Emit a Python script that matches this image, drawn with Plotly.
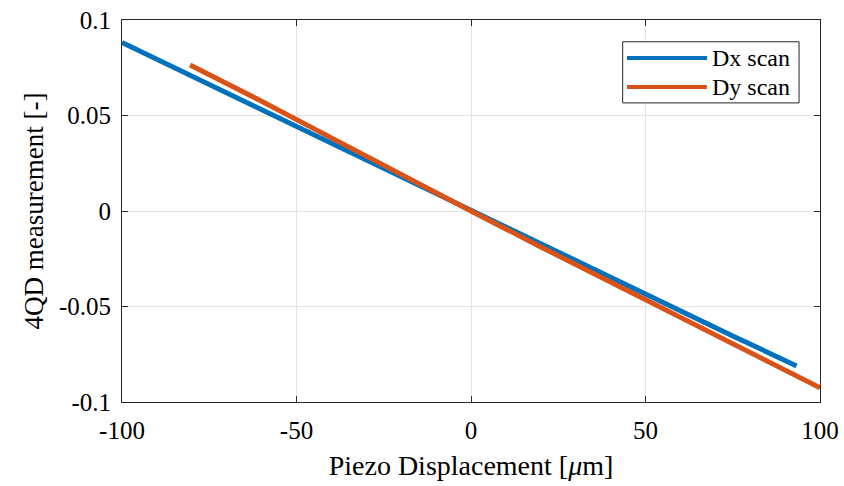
import plotly.graph_objects as go

# Dx scan: piezo displacement [um] vs 4QD measurement [-]
dx_disp = [-100, -75, -50, -25, 0, 25, 50, 75, 93.3]
dx_meas = [0.0882, 0.0662, 0.0442, 0.0221, 0.0, -0.0218, -0.0436, -0.0654, -0.0811]

# Dy scan
dy_disp = [-80.5, -60, -40, -20, 0, 20, 40, 60, 80, 100]
dy_meas = [0.0764, 0.0575, 0.0383, 0.0190, 0.0, -0.0188, -0.0374, -0.0560, -0.0743, -0.0925]

x_ticks = [-100, -50, 0, 50, 100]
y_ticks = [-0.1, -0.05, 0, 0.05, 0.1]
y_tick_text = ["-0.1", "-0.05", "0", "0.05", "0.1"]

series_names = ["Dx scan", "Dy scan"]
colors = ["#0072BD", "#D95319"]

FONT = "Liberation Serif"

fig = go.Figure()
fig.add_trace(go.Scatter(x=dx_disp, y=dx_meas, mode="lines", name=series_names[0],
                         line=dict(color=colors[0], width=5), showlegend=False))
fig.add_trace(go.Scatter(x=dy_disp, y=dy_meas, mode="lines", name=series_names[1],
                         line=dict(color=colors[1], width=5), showlegend=False))

axis_common = dict(showline=True, linecolor="#262626", linewidth=1, mirror="ticks",
                   ticks="inside", ticklen=6, tickcolor="#262626", showgrid=True,
                   gridcolor="#E3E3E3", gridwidth=1, zeroline=False, automargin=False,
                   tickfont=dict(family=FONT, size=25, color="black"))

fig.update_xaxes(range=[-100, 100], tickvals=x_ticks, ticktext=[str(v) for v in x_ticks],
                 ticklabelstandoff=6,
                 title=dict(text="Piezo Displacement [<i>μ</i>m]", font=dict(family=FONT, size=28, color="black"), standoff=12),
                 **axis_common)
fig.update_yaxes(range=[-0.1, 0.1], tickvals=y_ticks, ticktext=y_tick_text,
                 ticklabelstandoff=5,
                 title=dict(text="4QD measurement [-]", font=dict(family=FONT, size=27, color="black"), standoff=7),
                 **axis_common)

# manual MATLAB-style legend
lx0, lx1, ly0, ly1 = 0.7173, 0.970, 0.783, 0.943
fig.add_shape(type="rect", xref="paper", yref="paper", x0=lx0, x1=lx1, y0=ly0, y1=ly1,
              line=dict(color="#262626", width=1), fillcolor="white", layer="above")
for i, (name, col, yy) in enumerate(zip(series_names, colors, [0.9005, 0.8246])):
    fig.add_shape(type="line", xref="paper", yref="paper", x0=0.7235, x1=0.838, y0=yy, y1=yy,
                  line=dict(color=col, width=4), layer="above")
    fig.add_annotation(xref="paper", yref="paper", x=0.842, y=yy, text=name, showarrow=False,
                       xanchor="left", yanchor="middle",
                       font=dict(family=FONT, size=24, color="black"))

fig.update_layout(width=844, height=486, margin=dict(l=122, r=24, t=20, b=84),
                  paper_bgcolor="white", plot_bgcolor="white", showlegend=False)

fig.write_html("out.html")
